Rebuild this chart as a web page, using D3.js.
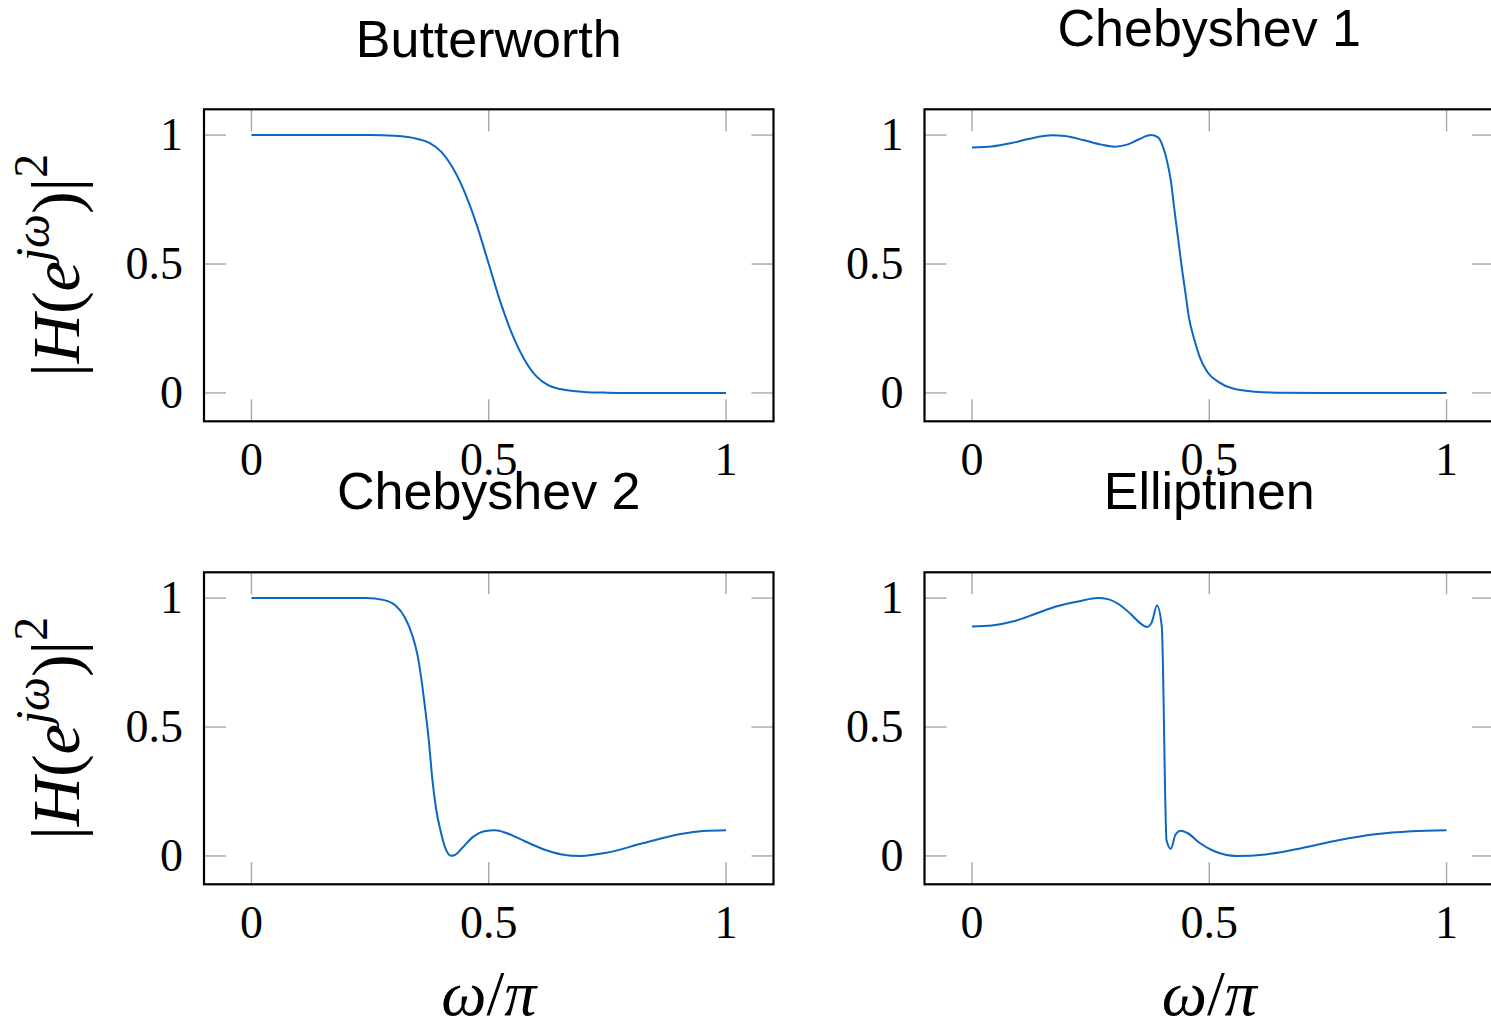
<!DOCTYPE html>
<html lang="en">
<head>
<meta charset="UTF-8" />
<title>Filter responses</title>
<script src="https://d3js.org/d3.v7.min.js"></script>
<style>
  body { margin: 0; background: #fff; }
  .tick-label { font-family: "Liberation Serif", "DejaVu Serif", serif; font-size: 46px; fill: #000; }
  .title { font-family: "Liberation Sans", Arial, sans-serif; font-size: 52px; fill: #000; }
  .axis-label { font-family: "Liberation Serif", "DejaVu Serif", serif; fill: #000; }
</style>
</head>
<body>
<div id="chart"></div>
<script>
// omega / pi sample points, with |H|^2 values
var butterX = [0, 0.1, 0.2, 0.25, 0.3, 0.35, 0.375, 0.4, 0.425, 0.45, 0.475, 0.5, 0.525, 0.55, 0.575, 0.6, 0.625, 0.65, 0.7, 0.75, 0.8, 0.9, 1];
var butterY = [1, 1, 1, 1, 0.997, 0.985, 0.97, 0.935, 0.87, 0.775, 0.65, 0.5, 0.35, 0.225, 0.13, 0.065, 0.03, 0.015, 0.004, 0.001, 0, 0, 0];

var cheby1X = [0, 0.042, 0.081, 0.119, 0.169, 0.196, 0.234, 0.273, 0.3, 0.327, 0.35, 0.377, 0.392, 0.403, 0.411, 0.419, 0.426, 0.434, 0.442, 0.45, 0.457, 0.469, 0.48, 0.496, 0.519, 0.55, 0.596, 0.657, 0.75, 1];
var cheby1Y = [0.952, 0.956, 0.968, 0.985, 0.999, 0.996, 0.981, 0.963, 0.955, 0.963, 0.982, 1.0, 0.991, 0.952, 0.9, 0.823, 0.72, 0.604, 0.488, 0.385, 0.294, 0.204, 0.139, 0.081, 0.043, 0.017, 0.005, 0.001, 0, 0];

var cheby2X = [0, 0.1, 0.2, 0.241, 0.28, 0.303, 0.323, 0.339, 0.35, 0.358, 0.366, 0.374, 0.381, 0.389, 0.399, 0.409, 0.42, 0.428, 0.444, 0.467, 0.491, 0.514, 0.537, 0.576, 0.615, 0.654, 0.693, 0.748, 0.826, 0.904, 0.951, 1];
var cheby2Y = [1, 1, 1, 1, 0.992, 0.972, 0.926, 0.855, 0.778, 0.687, 0.571, 0.442, 0.3, 0.183, 0.093, 0.028, 0.001, 0.003, 0.031, 0.074, 0.096, 0.1, 0.089, 0.057, 0.026, 0.006, 0, 0.012, 0.05, 0.085, 0.097, 0.1];

var ellipX = [0, 0.042, 0.088, 0.135, 0.181, 0.227, 0.265, 0.288, 0.311, 0.334, 0.357, 0.369, 0.379, 0.39, 0.4, 0.41, 0.419, 0.429, 0.44, 0.453, 0.48, 0.511, 0.557, 0.619, 0.696, 0.772, 0.849, 0.926, 1];
var ellipY = [0.89, 0.894, 0.91, 0.94, 0.969, 0.988, 1.0, 0.995, 0.974, 0.939, 0.899, 0.888, 0.907, 0.971, 0.888, 0.061, 0.028, 0.083, 0.098, 0.09, 0.05, 0.018, 0, 0.006, 0.031, 0.061, 0.084, 0.096, 0.1];

var titles = ["Butterworth", "Chebyshev 1", "Chebyshev 2", "Elliptinen"];
var tickValues = [0, 0.5, 1];
var tickLabels = ["0", "0.5", "1"];

var panels = [
  {title: titles[0], xs: butterX, ys: butterY, col: 0, row: 0},
  {title: titles[1], xs: cheby1X, ys: cheby1Y, col: 1, row: 0},
  {title: titles[2], xs: cheby2X, ys: cheby2Y, col: 0, row: 1},
  {title: titles[3], xs: ellipX, ys: ellipY, col: 1, row: 1}
];

var W = 1491, H = 1032;
var svg = d3.select("#chart").append("svg")
  .attr("width", W).attr("height", H);

// layout of the 2x2 grid
var boxW = 569.5, boxH = 312;
var colLeft = [204, 924.5];
var rowTop = [109.3, 572.3];
var tickLen = 22;

panels.forEach(function(p) {
  var left = colLeft[p.col], top = rowTop[p.row];

  var x = d3.scaleLinear().domain([-0.1, 1.1]).range([left, left + boxW]);
  var y = d3.scaleLinear().domain([-0.11, 1.1]).range([top + boxH, top]);

  var g = svg.append("g");

  // ticks on all four sides, inside
  tickValues.forEach(function(v) {
    g.append("line").attr("x1", x(v)).attr("x2", x(v))
      .attr("y1", top + boxH).attr("y2", top + boxH - tickLen)
      .attr("stroke", "#a6a6a6").attr("stroke-width", 1.4);
    g.append("line").attr("x1", x(v)).attr("x2", x(v))
      .attr("y1", top).attr("y2", top + tickLen)
      .attr("stroke", "#a6a6a6").attr("stroke-width", 1.4);
    g.append("line").attr("y1", y(v)).attr("y2", y(v))
      .attr("x1", left).attr("x2", left + tickLen)
      .attr("stroke", "#a6a6a6").attr("stroke-width", 1.4);
    g.append("line").attr("y1", y(v)).attr("y2", y(v))
      .attr("x1", left + boxW).attr("x2", left + boxW - tickLen)
      .attr("stroke", "#a6a6a6").attr("stroke-width", 1.4);
  });

  // the curve
  var pts = p.xs.map(function(d, i) { return [d, p.ys[i]]; });
  g.append("path")
    .datum(pts)
    .attr("fill", "none")
    .attr("stroke", "#0b66c4")
    .attr("stroke-width", 2)
    .attr("stroke-linejoin", "round")
    .attr("d", d3.line()
      .curve(d3.curveMonotoneX)
      .x(function(d) { return x(d[0]); })
      .y(function(d) { return y(d[1]); }));

  // frame
  g.append("rect")
    .attr("x", left).attr("y", top)
    .attr("width", boxW).attr("height", boxH)
    .attr("fill", "none").attr("stroke", "#000").attr("stroke-width", 2.2);

  // tick labels
  tickValues.forEach(function(v, i) {
    g.append("text").attr("class", "tick-label")
      .attr("x", x(v)).attr("y", top + boxH + 54)
      .attr("text-anchor", "middle")
      .text(tickLabels[i]);
    g.append("text").attr("class", "tick-label")
      .attr("x", left - 21).attr("y", y(v) + 15)
      .attr("text-anchor", "end")
      .text(tickLabels[i]);
  });

  // title, lifted a bit when the text has descenders (like the original)
  var hasDesc = /[ypgjq]/.test(p.title);
  g.append("text").attr("class", "title")
    .attr("x", x(0.5)).attr("y", top - (hasDesc ? 63 : 52))
    .attr("text-anchor", "middle")
    .text(p.title);

  // y label on the left column
  if (p.col === 0) {
    var cy = top + boxH / 2;
    var t = g.append("text").attr("class", "axis-label")
      .attr("transform", "translate(79," + cy + ") rotate(-90)")
      .attr("text-anchor", "middle")
      .style("font-size", "68px");
    t.append("tspan").text("|");
    t.append("tspan").style("font-style", "italic").text("H");
    t.append("tspan").text("(");
    t.append("tspan").style("font-style", "italic").text("e");
    t.append("tspan").style("font-style", "italic").style("font-size", "48px").attr("dy", -30).text("jω");
    t.append("tspan").attr("dy", 30).text(")|");
    t.append("tspan").style("font-size", "48px").attr("dy", -32).text("2");
  }

  // x label on the bottom row
  if (p.row === 1) {
    var xl = g.append("text").attr("class", "axis-label")
      .attr("x", x(0.5)).attr("y", 1015)
      .attr("text-anchor", "middle")
      .style("font-size", "64px");
    xl.append("tspan").style("font-style", "italic").text("ω");
    xl.append("tspan").text("/");
    xl.append("tspan").style("font-style", "italic").text("π");
  }
});
</script>
</body>
</html>
